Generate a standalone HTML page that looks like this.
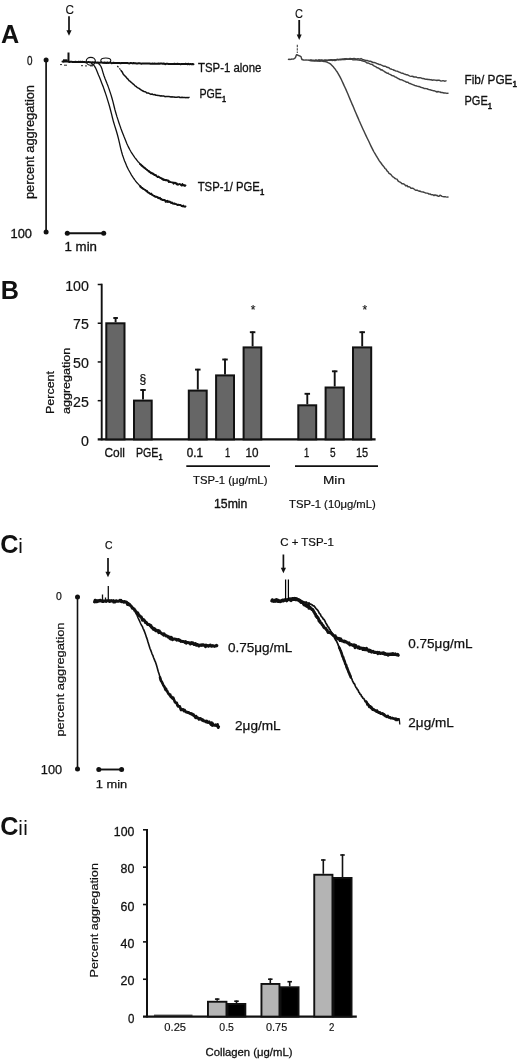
<!DOCTYPE html>
<html lang="en">
<head>
<meta charset="utf-8">
<title>Figure</title>
<style>
html,body{margin:0;padding:0;background:#fff;}
body{width:520px;height:1062px;overflow:hidden;}
svg{display:block;}
svg text{font-family:"Liberation Sans", sans-serif;fill:#111;}
</style>
</head>
<body>
<svg width="520" height="1062" viewBox="0 0 520 1062">
<rect width="520" height="1062" fill="#fff"/>
<text x="0.9" y="42.7" font-size="25.2" font-weight="bold">A</text>
<text x="65.5" y="14" font-size="12" textLength="8.5" lengthAdjust="spacingAndGlyphs" stroke="#111" stroke-width="0.12">C</text>
<line x1="69" y1="16.2" x2="69" y2="31.299999999999997" stroke="#111" stroke-width="1.7" stroke-linecap="butt"/>
<path d="M66.4,30.299999999999997 L71.6,30.299999999999997 L69,35.8 Z" fill="#111"/>
<text x="27" y="64.5" font-size="12.5" textLength="5.5" lengthAdjust="spacingAndGlyphs" stroke="#111" stroke-width="0.3">0</text>
<line x1="46.1" y1="60" x2="46.1" y2="232" stroke="#111" stroke-width="1.7" stroke-linecap="butt"/>
<circle cx="46.1" cy="60" r="2.5" fill="#111"/>
<circle cx="46.1" cy="232" r="2.5" fill="#111"/>
<text x="10.5" y="237.5" font-size="12.5" textLength="21.5" lengthAdjust="spacingAndGlyphs" stroke="#111" stroke-width="0.3">100</text>
<line x1="67.3" y1="233.2" x2="103.7" y2="233.2" stroke="#111" stroke-width="1.9" stroke-linecap="butt"/>
<circle cx="67.3" cy="233.2" r="2.5" fill="#111"/>
<circle cx="103.7" cy="233.2" r="2.5" fill="#111"/>
<text x="64.5" y="251" font-size="12.5" textLength="32.5" lengthAdjust="spacingAndGlyphs" stroke="#111" stroke-width="0.3">1 min</text>
<text x="34.4" y="199" font-size="12.5" textLength="114" lengthAdjust="spacingAndGlyphs" transform="rotate(-90 34.4 199)" stroke="#111" stroke-width="0.3">percent aggregation</text>
<path d="M62.5,61.6 L63.5,61.7 L64.5,61.6 L65.5,61.5 L66.5,61.6 L67.5,61.6 L68.5,61.7 L69.5,62.0 L70.5,61.7 L71.5,61.7 L72.5,61.9 L73.5,61.9 L74.5,61.9 L75.5,61.8 L76.5,61.9 L77.5,62.1 L78.5,61.8 L79.5,62.0 L80.5,61.8 L81.5,61.9 L82.5,61.8 L83.5,62.1 L84.5,62.0 L85.5,62.2 L86.5,62.3 L87.5,62.2 L88.5,61.9 L89.5,62.2 L90.5,62.3 L91.5,62.4 L92.5,62.2 L93.5,62.4 L94.5,62.3 L95.5,62.4 L96.5,62.7 L97.5,62.4 L98.5,62.6 L99.5,62.7 L100.5,62.5 L101.5,62.6 L102.5,62.7 L103.5,62.7 L104.5,62.5 L105.5,62.7 L106.5,63.0 L107.5,62.5 L108.5,62.9 L109.5,62.8 L110.5,62.7 L111.5,63.2 L112.5,63.0 L113.5,62.7 L114.5,62.9 L115.5,63.0 L116.5,62.9 L117.5,63.1 L118.5,63.0 L119.5,63.1 L120.5,63.3 L121.5,63.0 L122.5,63.1 L123.5,63.0 L124.5,63.1 L125.5,63.0 L126.5,63.1 L127.5,63.1 L128.5,63.3 L129.5,63.4 L130.5,63.0 L131.5,63.1 L132.5,63.4 L133.5,63.0 L134.5,63.2 L135.5,63.3 L136.5,63.5 L137.5,63.5 L138.5,63.3 L139.5,63.3 L140.5,63.4 L141.5,63.7 L142.5,63.4 L143.5,63.4 L144.5,63.5 L145.5,63.5 L146.5,63.5 L147.5,63.4 L148.5,63.5 L149.5,63.5 L150.5,63.8 L151.5,63.7 L152.5,63.6 L153.5,63.7 L154.5,63.6 L155.5,63.8 L156.5,63.7 L157.5,63.8 L158.5,63.5 L159.5,63.8 L160.5,63.5 L161.5,63.4 L162.5,63.7 L163.5,63.6 L164.5,63.8 L165.5,64.2 L166.5,63.7 L167.5,63.8 L168.5,63.9 L169.5,63.9 L170.5,63.9 L171.5,63.9 L172.5,64.0 L173.5,64.0 L174.5,63.8 L175.5,64.0 L176.5,64.0 L177.5,63.8 L178.5,64.0 L179.5,63.9 L180.5,64.2 L181.5,64.1 L182.5,64.1 L183.5,64.0 L184.5,64.1 L185.5,63.8 L186.5,63.9 L187.5,64.2 L188.5,63.8 L189.5,64.3 L190.5,63.9 L191.5,64.3 L192.5,64.1 L193.5,64.3" fill="none" stroke="#111" stroke-width="2.0" stroke-linejoin="round" stroke-linecap="round"/>
<path d="M68.5,52.5 V61.8" fill="none" stroke="#111" stroke-width="2.0"/><path d="M63,60.6 h4.5" fill="none" stroke="#111" stroke-width="2.6"/>
<path d="M60,64.6 h2 m2,0.6 h3 m14,0.5 h2 m2,0.2 h2 m3,0 h3" fill="none" stroke="#111" stroke-width="0.9"/>
<ellipse cx="90.8" cy="61.3" rx="4.6" ry="3.9" fill="none" stroke="#111" stroke-width="1.1"/>
<ellipse cx="105.8" cy="60.6" rx="5" ry="2.6" fill="none" stroke="#111" stroke-width="1.1"/>
<path d="M117.3,66 l1.2,1.4 m0.8,0.9 l1.2,1.4" stroke="#111" stroke-width="1.2" fill="none"/>
<path d="M121.0,70.5 L122.0,71.7 L123.0,73.7 L124.0,75.0 L125.0,76.0 L126.0,77.1 L127.0,78.3 L128.0,79.1 L129.0,80.6 L130.0,81.2 L131.0,82.2 L132.0,83.0 L133.0,83.9 L134.0,84.6 L135.0,85.9 L136.0,86.4 L137.0,87.3 L138.0,87.9 L139.0,88.4 L140.0,89.1 L141.0,89.8 L142.0,90.5 L143.0,91.0 L144.0,91.5 L145.0,91.7 L146.0,92.2 L147.0,93.1 L148.0,93.0 L149.0,93.3 L150.0,93.8 L151.0,94.4 L152.0,94.0 L153.0,94.5 L154.0,94.7 L155.0,94.6 L156.0,95.3 L157.0,95.3 L158.0,95.5 L159.0,95.5 L160.0,95.9 L161.0,95.8 L162.0,96.0 L163.0,96.0 L164.0,96.1 L165.0,96.7 L166.0,96.4 L167.0,96.6 L168.0,96.6 L169.0,96.6 L170.0,96.7 L171.0,97.0 L172.0,96.8 L173.0,96.9 L174.0,97.0 L175.0,97.3 L176.0,97.3 L177.0,97.2 L178.0,97.1 L179.0,97.0 L180.0,97.5 L181.0,97.5 L182.0,97.3 L183.0,97.5 L184.0,97.6 L185.0,97.6 L186.0,97.7 L187.0,97.4 L188.0,97.8 L189.0,97.3" fill="none" stroke="#111" stroke-width="1.5" stroke-linejoin="round" stroke-linecap="round"/>
<path d="M91.5,63.6 L92.5,64.0 L93.5,64.9 L94.5,66.1 L95.5,67.8 L96.5,70.0 L97.5,72.4 L98.5,74.9 L99.5,77.2 L100.5,79.8 L101.5,82.4 L102.5,84.9 L103.5,87.6 L104.5,90.5 L105.5,93.4 L106.5,96.4 L107.5,99.6 L108.5,102.9 L109.5,106.3 L110.5,110.0 L111.5,113.9 L112.5,118.0 L113.5,121.8 L114.5,125.1 L115.5,128.3 L116.5,131.5 L117.5,135.0 L118.5,138.9 L119.5,143.2 L120.5,147.6 L121.5,151.5 L122.5,155.0 L123.5,157.9 L124.5,160.7 L125.5,163.1 L126.5,165.6 L127.5,167.7 L128.5,169.7 L129.5,171.5 L130.5,173.3 L131.5,175.1 L132.5,176.6 L133.5,178.1 L134.5,179.5 L135.5,181.0 L136.5,182.2 L137.5,183.2 L138.5,184.4 L139.5,185.3 L140.5,186.0 L141.5,187.3 L142.5,188.5 L143.5,189.1 L144.5,189.5 L145.5,190.3 L146.5,191.7 L147.5,192.0 L148.5,192.7 L149.5,193.2 L150.5,193.9 L151.5,194.8 L152.5,195.2 L153.5,195.6 L154.5,195.6 L155.5,196.7 L156.5,196.7 L157.5,197.9 L158.5,197.4 L159.5,198.3 L160.5,198.8 L161.5,198.6 L162.5,200.2 L163.5,200.5 L164.5,200.1 L165.5,201.0 L166.5,201.2 L167.5,200.4 L168.5,201.9 L169.5,202.1 L170.5,202.5 L171.5,202.4 L172.5,203.0 L173.5,203.4 L174.5,204.2 L175.5,204.2 L176.5,204.4 L177.5,205.3 L178.5,204.8 L179.5,205.1 L180.5,204.8 L181.5,206.4 L182.5,206.4 L183.5,206.7 L184.5,206.8 L185.5,206.8" fill="none" stroke="#111" stroke-width="1.3" stroke-linejoin="round" stroke-linecap="round"/>
<path d="M98.0,63.5 L99.0,63.9 L100.0,65.0 L101.0,66.5 L102.0,69.1 L103.0,72.6 L104.0,75.7 L105.0,78.4 L106.0,80.9 L107.0,83.6 L108.0,86.1 L109.0,88.9 L110.0,91.9 L111.0,94.9 L112.0,98.3 L113.0,101.9 L114.0,106.0 L115.0,110.0 L116.0,113.5 L117.0,116.9 L118.0,119.9 L119.0,123.0 L120.0,125.9 L121.0,128.8 L122.0,131.4 L123.0,134.0 L124.0,136.6 L125.0,139.0 L126.0,141.5 L127.0,143.9 L128.0,146.1 L129.0,148.1 L130.0,150.0 L131.0,151.8 L132.0,153.3 L133.0,154.9 L134.0,156.3 L135.0,157.8 L136.0,159.0 L137.0,160.3 L138.0,161.7 L139.0,162.6 L140.0,163.9 L141.0,165.0 L142.0,165.8 L143.0,166.8 L144.0,168.0 L145.0,168.3 L146.0,169.0 L147.0,169.5 L148.0,170.7 L149.0,172.0 L150.0,172.5 L151.0,172.4 L152.0,173.1 L153.0,173.9 L154.0,174.8 L155.0,175.2 L156.0,175.9 L157.0,176.5 L158.0,176.8 L159.0,177.4 L160.0,178.0 L161.0,178.3 L162.0,179.0 L163.0,180.0 L164.0,179.9 L165.0,180.0 L166.0,179.7 L167.0,180.9 L168.0,180.3 L169.0,180.9 L170.0,182.1 L171.0,182.4 L172.0,182.4 L173.0,182.1 L174.0,182.9 L175.0,183.1 L176.0,183.9 L177.0,184.8 L178.0,184.3 L179.0,184.1 L180.0,184.2 L181.0,184.9 L182.0,185.1 L183.0,184.9 L184.0,185.5 L185.0,185.2" fill="none" stroke="#111" stroke-width="1.3" stroke-linejoin="round" stroke-linecap="round"/>
<path d="M140.0,186.5 L140.8,187.2 L141.6,187.8 L142.4,187.8 L143.2,188.9 L144.0,189.2 L144.8,189.7 L145.6,190.4 L146.4,190.5 L147.2,191.0 L148.0,192.6 L148.8,192.7 L149.6,193.4 L150.4,194.2 L151.2,193.5 L152.0,194.4 L152.8,195.2 L153.6,195.8 L154.4,195.8 L155.2,196.9 L156.0,196.9 L156.8,196.6 L157.6,197.1 L158.4,198.2 L159.2,198.4 L160.0,197.7 L160.8,199.5 L161.6,199.5 L162.4,200.1 L163.2,199.7 L164.0,200.0 L164.8,199.9 L165.6,201.9 L166.4,200.9 L167.2,202.0 L168.0,201.3 L168.8,201.9 L169.6,201.4 L170.4,202.2 L171.2,203.1 L172.0,202.4 L172.8,203.7 L173.6,203.6 L174.4,203.3 L175.2,203.8 L176.0,204.0 L176.8,204.5 L177.6,204.5 L178.4,204.6 L179.2,205.0 L180.0,204.9 L180.8,205.0 L181.6,205.8 L182.4,206.4 L183.2,205.5 L184.0,206.4 L184.8,206.3 L185.6,206.4" fill="none" stroke="#111" stroke-width="1.7" stroke-linejoin="round" stroke-linecap="round"/>
<path d="M140.0,164.1 L140.8,164.3 L141.6,165.9 L142.4,165.6 L143.2,166.9 L144.0,167.3 L144.8,167.7 L145.6,169.0 L146.4,169.3 L147.2,170.3 L148.0,170.6 L148.8,170.8 L149.6,171.8 L150.4,172.4 L151.2,173.4 L152.0,173.0 L152.8,173.9 L153.6,173.6 L154.4,175.2 L155.2,174.9 L156.0,175.0 L156.8,176.2 L157.6,177.2 L158.4,176.4 L159.2,177.0 L160.0,177.5 L160.8,177.7 L161.6,178.8 L162.4,178.6 L163.2,179.0 L164.0,179.9 L164.8,179.6 L165.6,180.4 L166.4,180.1 L167.2,180.3 L168.0,180.3 L168.8,182.2 L169.6,181.5 L170.4,182.0 L171.2,182.2 L172.0,182.5 L172.8,182.7 L173.6,183.8 L174.4,182.7 L175.2,182.7 L176.0,183.2 L176.8,183.3 L177.6,184.4 L178.4,184.7 L179.2,184.1 L180.0,184.1 L180.8,184.7 L181.6,185.7 L182.4,183.9 L183.2,185.6 L184.0,185.0 L184.8,186.1 L185.6,185.3" fill="none" stroke="#111" stroke-width="1.7" stroke-linejoin="round" stroke-linecap="round"/>
<text x="198" y="72" font-size="12.3" textLength="63.3" lengthAdjust="spacingAndGlyphs" stroke="#111" stroke-width="0.3">TSP-1 alone</text>
<text x="199.5" y="98" font-size="12.3" textLength="26.5" lengthAdjust="spacingAndGlyphs" stroke="#111" stroke-width="0.3">PGE<tspan dy="3.6" font-size="8.4" font-weight="bold">1</tspan></text>
<text x="197.7" y="191.2" font-size="12.3" textLength="66.5" lengthAdjust="spacingAndGlyphs" stroke="#111" stroke-width="0.3">TSP-1/ PGE<tspan dy="3.6" font-size="8.4" font-weight="bold">1</tspan></text>
<text x="295" y="17.5" font-size="12" textLength="8" lengthAdjust="spacingAndGlyphs" stroke="#111" stroke-width="0.12">C</text>
<line x1="299.2" y1="20" x2="299.2" y2="35.5" stroke="#111" stroke-width="1.8" stroke-linecap="butt"/>
<path d="M296.7,34.5 L301.7,34.5 L299.2,40 Z" fill="#111"/>
<path d="M288.5,59.4 L289.0,59.2 L289.5,59.3 L290.0,59.5 L290.5,59.4 L291.0,59.3 L291.5,59.2 L292.0,59.0 L292.5,59.1 L293.0,59.1 L293.5,59.0 L294.0,58.8 L294.5,58.4 L295.0,58.1 L295.5,57.4 L296.0,56.0 L296.5,54.8 L297.0,54.7 L297.5,55.0 L298.0,55.4 L298.5,55.5 L299.0,55.7 L299.5,56.0 L300.0,56.0 L300.5,56.4 L301.0,56.6 L301.5,58.4 L302.0,59.6 L302.5,59.7 L303.0,59.8 L303.5,60.0 L304.0,60.0 L304.5,60.1 L305.0,60.1 L305.5,60.0 L306.0,60.1 L306.5,60.0 L307.0,60.1 L307.5,60.1 L308.0,60.0 L308.5,60.2 L309.0,60.2 L309.5,60.2 L310.0,60.2 L310.5,60.2 L311.0,60.1 L311.5,60.2 L312.0,60.2 L312.5,60.3 L313.0,60.2 L313.5,60.4 L314.0,60.4 L314.5,60.4 L315.0,60.4 L315.5,60.6 L316.0,60.4 L316.5,60.7 L317.0,60.7 L317.5,60.7 L318.0,60.8 L318.5,60.8 L319.0,60.9 L319.5,61.0 L320.0,61.0" fill="none" stroke="#404040" stroke-width="1.45" stroke-linejoin="round" stroke-linecap="round"/>
<path d="M297.3,44.8 v2.4 m0,1 v2.4 m0,0.8 v1.5" stroke="#404040" stroke-width="1.1" fill="none"/>
<path d="M310.0,60.4 L311.0,60.1 L312.0,60.5 L313.0,60.6 L314.0,60.6 L315.0,60.4 L316.0,60.0 L317.0,60.5 L318.0,60.3 L319.0,59.8 L320.0,60.4 L321.0,60.0 L322.0,60.0 L323.0,60.1 L324.0,60.4 L325.0,60.1 L326.0,60.2 L327.0,60.4 L328.0,60.4 L329.0,60.0 L330.0,60.0 L331.0,59.7 L332.0,59.8 L333.0,59.9 L334.0,59.8 L335.0,59.7 L336.0,59.8 L337.0,59.3 L338.0,59.4 L339.0,59.4 L340.0,59.3 L341.0,59.3 L342.0,59.1 L343.0,58.9 L344.0,59.0 L345.0,58.7 L346.0,58.6 L347.0,59.0 L348.0,58.9 L349.0,58.9 L350.0,58.5 L351.0,58.8 L352.0,58.7 L353.0,58.6 L354.0,58.4 L355.0,58.7 L356.0,59.0 L357.0,58.9 L358.0,58.7 L359.0,58.9 L360.0,59.1 L361.0,58.5 L362.0,59.2 L363.0,59.6 L364.0,59.8 L365.0,60.3 L366.0,60.4 L367.0,60.5 L368.0,60.8 L369.0,61.2 L370.0,61.1 L371.0,61.5 L372.0,62.0 L373.0,62.5 L374.0,62.4 L375.0,62.7 L376.0,63.1 L377.0,63.7 L378.0,63.8 L379.0,64.5 L380.0,64.4 L381.0,64.9 L382.0,65.3 L383.0,65.8 L384.0,66.3 L385.0,66.2 L386.0,66.7 L387.0,67.3 L388.0,67.5 L389.0,67.8 L390.0,68.7 L391.0,69.0 L392.0,69.4 L393.0,69.6 L394.0,70.3 L395.0,70.5 L396.0,71.1 L397.0,71.1 L398.0,71.5 L399.0,72.1 L400.0,72.3 L401.0,72.9 L402.0,73.2 L403.0,73.3 L404.0,73.9 L405.0,74.2 L406.0,74.7 L407.0,74.7 L408.0,75.1 L409.0,75.7 L410.0,76.1 L411.0,76.4 L412.0,76.2 L413.0,76.5 L414.0,77.0 L415.0,76.9 L416.0,77.0 L417.0,77.4 L418.0,77.7 L419.0,77.6 L420.0,77.7 L421.0,77.9 L422.0,78.5 L423.0,78.4 L424.0,78.7 L425.0,79.0 L426.0,79.2 L427.0,79.2 L428.0,79.5 L429.0,79.4 L430.0,79.7 L431.0,79.6 L432.0,80.2 L433.0,80.0 L434.0,80.0 L435.0,80.1 L436.0,80.2 L437.0,80.5 L438.0,80.1 L439.0,80.3 L440.0,80.5 L441.0,81.1 L442.0,80.9 L443.0,80.7 L444.0,80.9 L445.0,81.2 L446.0,80.8" fill="none" stroke="#404040" stroke-width="1.45" stroke-linejoin="round" stroke-linecap="round"/>
<path d="M310.0,60.5 L311.0,60.8 L312.0,60.7 L313.0,60.7 L314.0,60.5 L315.0,61.0 L316.0,60.9 L317.0,60.7 L318.0,60.7 L319.0,60.1 L320.0,60.7 L321.0,60.5 L322.0,60.6 L323.0,60.6 L324.0,60.4 L325.0,60.1 L326.0,60.5 L327.0,60.2 L328.0,60.3 L329.0,60.2 L330.0,60.3 L331.0,59.8 L332.0,60.5 L333.0,60.3 L334.0,60.4 L335.0,60.6 L336.0,60.2 L337.0,59.8 L338.0,59.9 L339.0,59.7 L340.0,59.8 L341.0,59.8 L342.0,59.3 L343.0,59.7 L344.0,59.3 L345.0,59.6 L346.0,59.4 L347.0,59.3 L348.0,59.3 L349.0,59.2 L350.0,59.2 L351.0,59.0 L352.0,59.3 L353.0,59.8 L354.0,59.9 L355.0,59.8 L356.0,59.8 L357.0,59.6 L358.0,60.1 L359.0,60.0 L360.0,60.2 L361.0,60.4 L362.0,60.8 L363.0,61.0 L364.0,61.4 L365.0,61.6 L366.0,62.1 L367.0,63.0 L368.0,62.9 L369.0,63.3 L370.0,63.9 L371.0,64.3 L372.0,64.4 L373.0,65.1 L374.0,65.8 L375.0,66.3 L376.0,66.8 L377.0,67.7 L378.0,67.8 L379.0,68.5 L380.0,69.0 L381.0,70.0 L382.0,69.8 L383.0,70.6 L384.0,71.2 L385.0,72.0 L386.0,72.5 L387.0,73.2 L388.0,73.1 L389.0,74.1 L390.0,74.4 L391.0,74.9 L392.0,75.6 L393.0,75.8 L394.0,76.1 L395.0,76.9 L396.0,77.2 L397.0,77.8 L398.0,78.5 L399.0,78.9 L400.0,79.6 L401.0,79.7 L402.0,79.9 L403.0,80.5 L404.0,80.9 L405.0,81.2 L406.0,82.0 L407.0,82.2 L408.0,82.3 L409.0,83.2 L410.0,83.5 L411.0,83.9 L412.0,84.3 L413.0,84.7 L414.0,85.0 L415.0,85.6 L416.0,85.8 L417.0,86.1 L418.0,86.4 L419.0,86.4 L420.0,87.0 L421.0,87.3 L422.0,87.7 L423.0,87.7 L424.0,88.5 L425.0,88.5 L426.0,88.6 L427.0,88.7 L428.0,89.3 L429.0,89.6 L430.0,89.7 L431.0,90.2 L432.0,90.3 L433.0,90.7 L434.0,90.7 L435.0,91.1 L436.0,91.5 L437.0,92.0 L438.0,91.5 L439.0,91.9 L440.0,92.0 L441.0,92.5 L442.0,92.4 L443.0,92.7 L444.0,93.0 L445.0,93.0 L446.0,93.1 L447.0,93.4 L448.0,93.2" fill="none" stroke="#404040" stroke-width="1.45" stroke-linejoin="round" stroke-linecap="round"/>
<path d="M318.0,60.9 L319.0,61.0 L320.0,61.1 L321.0,61.1 L322.0,61.1 L323.0,61.3 L324.0,61.5 L325.0,61.6 L326.0,61.8 L327.0,62.1 L328.0,62.7 L329.0,63.1 L330.0,63.7 L331.0,64.4 L332.0,65.4 L333.0,66.4 L334.0,67.7 L335.0,68.9 L336.0,70.4 L337.0,71.7 L338.0,73.3 L339.0,75.1 L340.0,76.9 L341.0,78.8 L342.0,81.0 L343.0,83.1 L344.0,85.4 L345.0,87.5 L346.0,89.6 L347.0,92.0 L348.0,94.3 L349.0,96.7 L350.0,99.1 L351.0,101.5 L352.0,103.9 L353.0,106.1 L354.0,108.6 L355.0,111.0 L356.0,113.3 L357.0,115.6 L358.0,117.9 L359.0,120.3 L360.0,122.5 L361.0,124.7 L362.0,127.0 L363.0,129.2 L364.0,131.3 L365.0,133.5 L366.0,135.6 L367.0,137.7 L368.0,139.8 L369.0,141.8 L370.0,144.0 L371.0,146.1 L372.0,148.1 L373.0,150.1 L374.0,152.0 L375.0,153.7 L376.0,155.4 L377.0,157.0 L378.0,158.7 L379.0,160.4 L380.0,161.8 L381.0,163.0 L382.0,164.5 L383.0,165.7 L384.0,166.9 L385.0,168.5 L386.0,169.1 L387.0,170.9 L388.0,171.7 L389.0,173.3 L390.0,173.9 L391.0,174.6 L392.0,175.9 L393.0,176.9 L394.0,177.5 L395.0,178.5 L396.0,178.9 L397.0,179.1 L398.0,180.9 L399.0,181.6 L400.0,182.1 L401.0,182.7 L402.0,183.7 L403.0,183.7 L404.0,184.2 L405.0,184.9 L406.0,185.9 L407.0,185.5 L408.0,186.9 L409.0,186.8 L410.0,187.1 L411.0,188.3 L412.0,188.3 L413.0,188.3 L414.0,189.0 L415.0,189.8 L416.0,190.3 L417.0,190.1 L418.0,190.7 L419.0,191.2 L420.0,191.0 L421.0,191.7 L422.0,191.9 L423.0,192.0 L424.0,192.3 L425.0,192.7 L426.0,193.0 L427.0,193.1 L428.0,193.4 L429.0,194.1 L430.0,194.0 L431.0,194.5 L432.0,194.8 L433.0,194.8 L434.0,195.6 L435.0,194.7 L436.0,195.5 L437.0,195.3 L438.0,196.2 L439.0,196.3 L440.0,195.2 L441.0,195.7 L442.0,196.4 L443.0,196.6 L444.0,196.8 L445.0,196.6 L446.0,196.9 L447.0,197.1 L448.0,197.0" fill="none" stroke="#404040" stroke-width="1.45" stroke-linejoin="round" stroke-linecap="round"/>
<text x="464.5" y="83.8" font-size="12.3" textLength="52.5" lengthAdjust="spacingAndGlyphs" stroke="#111" stroke-width="0.3">Fib/ PGE<tspan dy="3.6" font-size="8.4" font-weight="bold">1</tspan></text>
<text x="464.5" y="104.9" font-size="12.3" textLength="27.5" lengthAdjust="spacingAndGlyphs" stroke="#111" stroke-width="0.3">PGE<tspan dy="3.6" font-size="8.4" font-weight="bold">1</tspan></text>
<text x="0.7" y="298.6" font-size="25.2" font-weight="bold">B</text>
<line x1="101.7" y1="283.7" x2="101.7" y2="440.4" stroke="#111" stroke-width="1.9" stroke-linecap="butt"/>
<line x1="97.7" y1="439.4" x2="375.6" y2="439.4" stroke="#111" stroke-width="2.1" stroke-linecap="butt"/>
<line x1="97.7" y1="284.5" x2="101.7" y2="284.5" stroke="#111" stroke-width="1.5" stroke-linecap="butt"/>
<line x1="97.7" y1="323.225" x2="101.7" y2="323.225" stroke="#111" stroke-width="1.5" stroke-linecap="butt"/>
<line x1="97.7" y1="361.95" x2="101.7" y2="361.95" stroke="#111" stroke-width="1.5" stroke-linecap="butt"/>
<line x1="97.7" y1="400.67499999999995" x2="101.7" y2="400.67499999999995" stroke="#111" stroke-width="1.5" stroke-linecap="butt"/>
<text x="88.8" y="290.6" font-size="14.2" text-anchor="end" stroke="#111" stroke-width="0.2">100</text>
<text x="88.8" y="329.32500000000005" font-size="14.2" text-anchor="end" stroke="#111" stroke-width="0.2">75</text>
<text x="88.8" y="368.05" font-size="14.2" text-anchor="end" stroke="#111" stroke-width="0.2">50</text>
<text x="88.8" y="406.775" font-size="14.2" text-anchor="end" stroke="#111" stroke-width="0.2">25</text>
<text x="88.8" y="445.5" font-size="14.2" text-anchor="end" stroke="#111" stroke-width="0.2">0</text>
<rect x="106.3" y="323.3" width="18.200000000000003" height="116.09999999999997" fill="#666" stroke="#111" stroke-width="2.0"/>
<line x1="115.6" y1="322.3" x2="115.6" y2="317.3" stroke="#111" stroke-width="1.9" stroke-linecap="butt"/>
<line x1="113.3" y1="318.0" x2="117.89999999999999" y2="318.0" stroke="#111" stroke-width="1.9" stroke-linecap="butt"/>
<rect x="134.0" y="400.6" width="17.69999999999999" height="38.799999999999955" fill="#666" stroke="#111" stroke-width="2.0"/>
<line x1="143.0" y1="399.6" x2="143.0" y2="389.3" stroke="#111" stroke-width="1.9" stroke-linecap="butt"/>
<line x1="140.25" y1="390.0" x2="145.75" y2="390.0" stroke="#111" stroke-width="1.9" stroke-linecap="butt"/>
<rect x="188.8" y="390.6" width="17.899999999999977" height="48.799999999999955" fill="#666" stroke="#111" stroke-width="2.0"/>
<line x1="197.8" y1="389.6" x2="197.8" y2="368.9" stroke="#111" stroke-width="1.9" stroke-linecap="butt"/>
<line x1="195.05" y1="369.59999999999997" x2="200.55" y2="369.59999999999997" stroke="#111" stroke-width="1.9" stroke-linecap="butt"/>
<rect x="216.1" y="375.4" width="17.900000000000006" height="64.0" fill="#666" stroke="#111" stroke-width="2.0"/>
<line x1="225.0" y1="374.4" x2="225.0" y2="358.8" stroke="#111" stroke-width="1.9" stroke-linecap="butt"/>
<line x1="222.25" y1="359.5" x2="227.75" y2="359.5" stroke="#111" stroke-width="1.9" stroke-linecap="butt"/>
<rect x="243.6" y="347.4" width="17.700000000000017" height="92.0" fill="#666" stroke="#111" stroke-width="2.0"/>
<line x1="252.6" y1="346.4" x2="252.6" y2="331.5" stroke="#111" stroke-width="1.9" stroke-linecap="butt"/>
<line x1="249.85" y1="332.2" x2="255.35" y2="332.2" stroke="#111" stroke-width="1.9" stroke-linecap="butt"/>
<rect x="298.3" y="405.3" width="17.899999999999977" height="34.099999999999966" fill="#666" stroke="#111" stroke-width="2.0"/>
<line x1="307.3" y1="404.3" x2="307.3" y2="393.1" stroke="#111" stroke-width="1.9" stroke-linecap="butt"/>
<line x1="304.55" y1="393.8" x2="310.05" y2="393.8" stroke="#111" stroke-width="1.9" stroke-linecap="butt"/>
<rect x="325.6" y="387.5" width="18.19999999999999" height="51.89999999999998" fill="#666" stroke="#111" stroke-width="2.0"/>
<line x1="334.7" y1="386.5" x2="334.7" y2="370.6" stroke="#111" stroke-width="1.9" stroke-linecap="butt"/>
<line x1="331.95" y1="371.3" x2="337.45" y2="371.3" stroke="#111" stroke-width="1.9" stroke-linecap="butt"/>
<rect x="353.0" y="347.4" width="18.19999999999999" height="92.0" fill="#666" stroke="#111" stroke-width="2.0"/>
<line x1="362.2" y1="346.4" x2="362.2" y2="331.5" stroke="#111" stroke-width="1.9" stroke-linecap="butt"/>
<line x1="359.45" y1="332.2" x2="364.95" y2="332.2" stroke="#111" stroke-width="1.9" stroke-linecap="butt"/>
<text x="142.8" y="383" font-size="12" text-anchor="middle" stroke="#111" stroke-width="0.25">§</text>
<text x="253" y="313.5" font-size="12" text-anchor="middle" stroke="#111" stroke-width="0.15">*</text>
<text x="364.8" y="313.5" font-size="12" text-anchor="middle" stroke="#111" stroke-width="0.15">*</text>
<text x="104.5" y="456.8" font-size="12.3" textLength="20.5" lengthAdjust="spacingAndGlyphs" stroke="#111" stroke-width="0.3">Coll</text>
<text x="136" y="456.8" font-size="12.3" textLength="26.5" lengthAdjust="spacingAndGlyphs" stroke="#111" stroke-width="0.3">PGE<tspan dy="3.6" font-size="8.4" font-weight="bold">1</tspan></text>
<text x="186.8" y="457" font-size="12" textLength="16.2" lengthAdjust="spacingAndGlyphs" stroke="#111" stroke-width="0.35" font-family='"Liberation Serif", serif'>0.1</text>
<text x="225" y="457.3" font-size="12" textLength="5.2" lengthAdjust="spacingAndGlyphs" stroke="#111" stroke-width="0.3">1</text>
<text x="245.5" y="457.3" font-size="12" textLength="13" lengthAdjust="spacingAndGlyphs" stroke="#111" stroke-width="0.3">10</text>
<text x="304" y="457.3" font-size="12" textLength="5.2" lengthAdjust="spacingAndGlyphs" stroke="#111" stroke-width="0.3">1</text>
<text x="330" y="457.3" font-size="12" textLength="5.6" lengthAdjust="spacingAndGlyphs" stroke="#111" stroke-width="0.3">5</text>
<text x="356" y="457.3" font-size="12" textLength="12.2" lengthAdjust="spacingAndGlyphs" stroke="#111" stroke-width="0.3">15</text>
<line x1="186.3" y1="466.2" x2="270" y2="466.2" stroke="#111" stroke-width="1.8" stroke-linecap="butt"/>
<line x1="295" y1="466.2" x2="378" y2="466.2" stroke="#111" stroke-width="1.8" stroke-linecap="butt"/>
<text x="193" y="483.8" font-size="11.5" textLength="74.4" lengthAdjust="spacingAndGlyphs" stroke="#111" stroke-width="0.2">TSP-1 (μg/mL)</text>
<text x="323" y="483.5" font-size="11.3" textLength="22" lengthAdjust="spacingAndGlyphs" stroke="#111" stroke-width="0.2">Min</text>
<text x="214" y="508.4" font-size="12.5" textLength="33.4" lengthAdjust="spacingAndGlyphs" stroke="#111" stroke-width="0.35">15min</text>
<text x="289" y="508" font-size="11.5" textLength="86.8" lengthAdjust="spacingAndGlyphs" stroke="#111" stroke-width="0.2">TSP-1 (10μg/mL)</text>
<text x="53.6" y="414" font-size="11.8" textLength="43" lengthAdjust="spacingAndGlyphs" transform="rotate(-90 53.6 414)" stroke="#111" stroke-width="0.25">Percent</text>
<text x="69.8" y="414" font-size="11.8" textLength="66.2" lengthAdjust="spacingAndGlyphs" transform="rotate(-90 69.8 414)" stroke="#111" stroke-width="0.25">aggregation</text>
<text x="0.3" y="552.9" font-size="25.2" font-weight="bold">C<tspan font-weight="normal" font-size="20.5" dx="-0.2" dy="0.2">i</tspan></text>
<text x="105" y="548.8" font-size="11.5" textLength="7.5" lengthAdjust="spacingAndGlyphs" stroke="#111" stroke-width="0.25">C</text>
<line x1="108" y1="558" x2="108" y2="572.8" stroke="#111" stroke-width="1.7" stroke-linecap="butt"/>
<path d="M105.4,571.8 L110.6,571.8 L108,577.3 Z" fill="#111"/>
<text x="56" y="600.2" font-size="11.8" textLength="5.8" lengthAdjust="spacingAndGlyphs" stroke="#111" stroke-width="0.25">0</text>
<line x1="77.5" y1="597" x2="77.5" y2="769" stroke="#111" stroke-width="1.6" stroke-linecap="butt"/>
<circle cx="77.5" cy="597" r="2.5" fill="#111"/>
<circle cx="77.5" cy="769" r="2.5" fill="#111"/>
<text x="40.8" y="773.5" font-size="12" textLength="21.3" lengthAdjust="spacingAndGlyphs" stroke="#111" stroke-width="0.25">100</text>
<line x1="98.8" y1="769.5" x2="121.6" y2="769.5" stroke="#111" stroke-width="1.9" stroke-linecap="butt"/>
<circle cx="98.8" cy="769.5" r="2.5" fill="#111"/>
<circle cx="121.6" cy="769.5" r="2.5" fill="#111"/>
<text x="95.8" y="788" font-size="11.8" textLength="31.5" lengthAdjust="spacingAndGlyphs" stroke="#111" stroke-width="0.25">1 min</text>
<text x="63.8" y="736.5" font-size="11.8" textLength="114" lengthAdjust="spacingAndGlyphs" transform="rotate(-90 63.8 736.5)" stroke="#111" stroke-width="0.22">percent aggregation</text>
<path d="M94.5,601.9 L95.1,600.2 L95.7,601.6 L96.3,600.7 L96.9,601.7 L97.5,601.0 L98.1,600.6 L98.7,601.2 L99.3,600.6 L99.9,600.5 L100.5,600.2 L101.1,601.0 L101.7,601.2 L102.3,601.5 L102.9,600.9 L103.5,601.5 L104.1,600.9 L104.7,600.9 L105.3,601.2 L105.9,601.4 L106.5,600.7 L107.1,600.8 L107.7,600.8 L108.3,600.9 L108.9,600.5 L109.5,601.4 L110.1,600.7 L110.7,601.1 L111.3,600.5 L111.9,601.1 L112.5,601.1 L113.1,600.7 L113.7,602.0 L114.3,601.2 L114.9,601.9 L115.5,601.5 L116.1,600.7 L116.7,600.9 L117.3,601.3 L117.9,601.2 L118.5,601.2 L119.1,601.1 L119.7,600.4 L120.3,601.2 L120.9,600.3 L121.5,601.7 L122.1,601.3 L122.7,601.5 L123.3,601.9 L123.9,602.3 L124.5,601.6 L125.1,601.7 L125.7,602.3 L126.3,602.0 L126.9,602.8 L127.5,604.4 L128.1,603.4 L128.7,604.6 L129.3,604.0 L129.9,605.3 L130.5,605.4 L131.1,606.1 L131.7,606.9 L132.3,608.2 L132.9,608.1 L133.5,608.8 L134.1,608.9 L134.7,610.4 L135.3,610.7 L135.9,611.9 L136.5,612.2 L137.1,613.8 L137.7,612.7 L138.3,614.2 L138.9,615.5 L139.5,615.6 L140.1,616.1 L140.7,617.0 L141.3,617.1 L141.9,618.5 L142.5,620.3 L143.1,620.2 L143.7,619.7 L144.3,620.4 L144.9,621.2 L145.5,622.5 L146.1,622.2 L146.7,622.8 L147.3,624.1 L147.9,624.6 L148.5,624.5 L149.1,624.6 L149.7,624.9 L150.3,625.8 L150.9,625.5 L151.5,627.4 L152.1,627.2 L152.7,628.2 L153.3,629.3 L153.9,629.4 L154.5,628.6 L155.1,630.0 L155.7,630.6 L156.3,630.0 L156.9,630.3 L157.5,631.1 L158.1,630.7 L158.7,632.6 L159.3,631.0 L159.9,632.0 L160.5,632.7 L161.1,633.1 L161.7,633.6 L162.3,634.0 L162.9,634.1 L163.5,635.1 L164.1,633.8 L164.7,635.1 L165.3,635.1 L165.9,635.8 L166.5,636.1 L167.1,635.9 L167.7,636.3 L168.3,637.2 L168.9,637.3 L169.5,637.0 L170.1,638.6 L170.7,639.0 L171.3,637.3 L171.9,638.4 L172.5,639.7 L173.1,639.0 L173.7,638.9 L174.3,638.9 L174.9,638.9 L175.5,639.3 L176.1,639.3 L176.7,640.1 L177.3,639.7 L177.9,639.9 L178.5,639.6 L179.1,640.4 L179.7,640.1 L180.3,640.6 L180.9,641.4 L181.5,641.2 L182.1,641.5 L182.7,641.6 L183.3,641.6 L183.9,641.7 L184.5,641.8 L185.1,642.5 L185.7,641.7 L186.3,643.1 L186.9,642.6 L187.5,642.4 L188.1,642.6 L188.7,642.7 L189.3,643.2 L189.9,642.9 L190.5,644.0 L191.1,643.1 L191.7,642.5 L192.3,643.4 L192.9,642.8 L193.5,643.9 L194.1,644.6 L194.7,644.5 L195.3,643.6 L195.9,644.0 L196.5,645.3 L197.1,644.7 L197.7,644.6 L198.3,645.2 L198.9,646.0 L199.5,645.5 L200.1,645.0 L200.7,645.2 L201.3,645.4 L201.9,644.8 L202.5,644.7 L203.1,645.3 L203.7,644.8 L204.3,645.3 L204.9,645.5 L205.5,646.7 L206.1,645.1 L206.7,645.5 L207.3,645.6 L207.9,645.9 L208.5,646.3 L209.1,645.6 L209.7,645.5 L210.3,645.1 L210.9,645.5 L211.5,646.3 L212.1,646.1 L212.7,645.6 L213.3,645.9 L213.9,646.2 L214.5,646.4 L215.1,645.9 L215.7,646.1 L216.3,645.4 L216.9,645.7" fill="none" stroke="#111" stroke-width="3.0" stroke-linejoin="round" stroke-linecap="round"/>
<path d="M136.0,613.5 L136.7,614.0 L137.4,616.2 L138.1,618.0 L138.8,619.4 L139.5,620.8 L140.2,622.5 L140.9,624.0 L141.6,625.4 L142.3,626.3 L143.0,628.3 L143.7,629.6 L144.4,631.4 L145.1,633.3 L145.8,635.3 L146.5,637.4 L147.2,639.2 L147.9,641.8 L148.6,644.1 L149.3,646.3 L150.0,648.5 L150.7,650.1 L151.4,652.0 L152.1,654.1 L152.8,655.3 L153.5,657.5 L154.2,659.1 L154.9,660.9 L155.6,662.4 L156.3,664.6 L157.0,666.9 L157.7,669.5 L158.4,672.0 L159.1,674.1 L159.8,676.4 L160.5,678.4 L161.2,680.6 L161.9,682.0 L162.6,683.8 L163.3,685.5 L164.0,686.3 L164.7,687.1 L165.4,688.5 L166.1,689.4 L166.8,690.6 L167.5,692.4 L168.2,693.1 L168.9,693.5 L169.6,695.0 L170.3,696.1 L171.0,696.4 L171.7,697.1 L172.4,698.0 L173.1,699.0 L173.8,700.0 L174.5,701.0 L175.2,701.9 L175.9,702.8 L176.6,703.9 L177.3,704.6 L178.0,704.9 L178.7,706.1 L179.4,707.0 L180.1,707.5 L180.8,708.4 L181.5,708.6 L182.2,708.9 L182.9,710.1 L183.6,710.4 L184.3,710.7 L185.0,711.3 L185.7,711.7 L186.4,711.9 L187.1,711.4 L187.8,712.4 L188.5,712.8 L189.2,713.0 L189.9,713.7 L190.6,714.4 L191.3,714.2 L192.0,714.4 L192.7,715.7 L193.4,715.4 L194.1,715.5 L194.8,716.3 L195.5,716.8 L196.2,716.8 L196.9,717.6 L197.6,717.6 L198.3,717.8 L199.0,718.5 L199.7,719.0 L200.4,719.0 L201.1,719.6 L201.8,719.8 L202.5,721.0 L203.2,720.3 L203.9,721.2 L204.6,721.1 L205.3,721.3 L206.0,721.9 L206.7,722.2 L207.4,722.6 L208.1,722.6 L208.8,722.6 L209.5,722.9 L210.2,723.5 L210.9,723.8 L211.6,724.3 L212.3,724.2 L213.0,724.7 L213.7,725.1 L214.4,724.9 L215.1,724.6 L215.8,725.0 L216.5,725.1 L217.2,726.2 L217.9,725.7 L218.6,726.6" fill="none" stroke="#111" stroke-width="1.6" stroke-linejoin="round" stroke-linecap="round"/>
<path d="M160.0,677.4 L160.6,679.9 L161.2,681.1 L161.8,681.8 L162.4,683.1 L163.0,684.5 L163.6,685.7 L164.2,686.4 L164.8,687.7 L165.4,689.7 L166.0,688.7 L166.6,690.8 L167.2,691.0 L167.8,692.5 L168.4,693.8 L169.0,694.0 L169.6,695.3 L170.2,694.6 L170.8,696.9 L171.4,696.6 L172.0,698.0 L172.6,698.5 L173.2,697.5 L173.8,699.3 L174.4,700.6 L175.0,702.2 L175.6,702.2 L176.2,703.1 L176.8,702.9 L177.4,705.4 L178.0,706.4 L178.6,706.1 L179.2,706.6 L179.8,706.4 L180.4,708.4 L181.0,709.9 L181.6,709.2 L182.2,710.0 L182.8,710.0 L183.4,709.4 L184.0,711.2 L184.6,710.0 L185.2,711.0 L185.8,711.6 L186.4,712.3 L187.0,712.4 L187.6,712.7 L188.2,712.3 L188.8,712.3 L189.4,713.4 L190.0,713.3 L190.6,713.2 L191.2,713.5 L191.8,714.3 L192.4,713.8 L193.0,714.5 L193.6,714.6 L194.2,716.0 L194.8,716.5 L195.4,717.8 L196.0,716.0 L196.6,716.8 L197.2,718.1 L197.8,717.7 L198.4,717.9 L199.0,719.5 L199.6,718.5 L200.2,718.4 L200.8,718.5 L201.4,719.8 L202.0,720.1 L202.6,719.4 L203.2,719.9 L203.8,721.1 L204.4,721.3 L205.0,720.9 L205.6,721.9 L206.2,722.1 L206.8,720.9 L207.4,722.1 L208.0,722.7 L208.6,722.4 L209.2,721.7 L209.8,723.0 L210.4,723.9 L211.0,724.6 L211.6,722.5 L212.2,725.6 L212.8,723.6 L213.4,725.1 L214.0,725.5 L214.6,725.5 L215.2,725.2 L215.8,724.6 L216.4,725.9 L217.0,725.3 L217.6,724.4 L218.2,727.8 L218.8,726.7" fill="none" stroke="#111" stroke-width="2.6" stroke-linejoin="round" stroke-linecap="round"/>
<path d="M102.5,600.5 V594.5 M108.3,600.5 V586 M105.5,600.5 v-3" stroke="#111" stroke-width="1.3" fill="none"/>
<text x="228" y="652.1" font-size="13.3" textLength="64.2" lengthAdjust="spacingAndGlyphs" stroke="#111" stroke-width="0.25">0.75μg/mL</text>
<text x="235" y="730.4" font-size="13.3" textLength="45.7" lengthAdjust="spacingAndGlyphs" stroke="#111" stroke-width="0.25">2μg/mL</text>
<text x="280.2" y="545.8" font-size="11.5" textLength="53.6" lengthAdjust="spacingAndGlyphs" stroke="#111" stroke-width="0.22">C + TSP-1</text>
<line x1="283.4" y1="554.5" x2="283.4" y2="568.7" stroke="#111" stroke-width="1.7" stroke-linecap="butt"/>
<path d="M280.79999999999995,567.7 L286.0,567.7 L283.4,573.2 Z" fill="#111"/>
<path d="M271.7,600.9 L272.3,599.7 L272.9,601.0 L273.5,601.2 L274.1,601.2 L274.7,600.5 L275.3,600.0 L275.9,600.6 L276.5,599.6 L277.1,599.9 L277.7,600.8 L278.3,600.3 L278.9,600.7 L279.5,600.7 L280.1,601.7 L280.7,601.3 L281.3,600.6 L281.9,601.1 L282.5,600.1 L283.1,600.2 L283.7,600.8 L284.3,599.7 L284.9,600.1 L285.5,599.5 L286.1,600.1 L286.7,600.8 L287.3,599.5 L287.9,599.9 L288.5,599.3 L289.1,599.1 L289.7,598.9 L290.3,600.2 L290.9,600.6 L291.5,599.6 L292.1,598.9 L292.7,599.6 L293.3,599.0 L293.9,599.6 L294.5,599.4 L295.1,599.5 L295.7,599.8 L296.3,599.4 L296.9,599.7 L297.5,599.3 L298.1,600.3 L298.7,600.1 L299.3,601.1 L299.9,601.0 L300.5,601.9 L301.1,602.5 L301.7,601.9 L302.3,602.6 L302.9,602.9 L303.5,604.1 L304.1,604.9 L304.7,604.8 L305.3,604.5 L305.9,605.8 L306.5,604.6 L307.1,606.5 L307.7,605.8 L308.3,605.1 L308.9,608.3 L309.5,608.2 L310.1,607.3 L310.7,608.4 L311.3,608.7 L311.9,609.4 L312.5,609.2 L313.1,610.2 L313.7,611.5 L314.3,612.2 L314.9,613.7 L315.5,614.2 L316.1,616.4 L316.7,616.0 L317.3,617.6 L317.9,617.6 L318.5,618.9 L319.1,621.1 L319.7,620.8 L320.3,622.4 L320.9,623.0 L321.5,623.3 L322.1,624.5 L322.7,625.2 L323.3,626.0 L323.9,627.3 L324.5,627.9 L325.1,627.9 L325.7,628.4 L326.3,629.6 L326.9,630.0 L327.5,631.1 L328.1,632.5 L328.7,632.1 L329.3,632.2 L329.9,632.7 L330.5,632.8 L331.1,633.3 L331.7,633.7 L332.3,634.4 L332.9,634.8 L333.5,635.8 L334.1,635.6 L334.7,636.1 L335.3,635.9 L335.9,637.7 L336.5,637.5 L337.1,638.4 L337.7,638.3 L338.3,639.0 L338.9,638.4 L339.5,639.2 L340.1,640.5 L340.7,638.9 L341.3,640.4 L341.9,641.0 L342.5,640.7 L343.1,641.2 L343.7,641.7 L344.3,641.0 L344.9,641.9 L345.5,641.5 L346.1,641.9 L346.7,642.2 L347.3,642.8 L347.9,643.2 L348.5,643.6 L349.1,642.9 L349.7,644.9 L350.3,644.7 L350.9,644.8 L351.5,644.5 L352.1,644.9 L352.7,645.4 L353.3,645.6 L353.9,644.8 L354.5,646.2 L355.1,647.6 L355.7,645.4 L356.3,647.0 L356.9,646.9 L357.5,646.9 L358.1,647.9 L358.7,646.8 L359.3,647.7 L359.9,648.5 L360.5,647.9 L361.1,647.9 L361.7,648.4 L362.3,648.3 L362.9,649.5 L363.5,648.4 L364.1,649.5 L364.7,648.6 L365.3,649.8 L365.9,649.6 L366.5,648.4 L367.1,649.9 L367.7,649.6 L368.3,650.1 L368.9,651.2 L369.5,650.1 L370.1,650.3 L370.7,651.7 L371.3,651.2 L371.9,652.1 L372.5,651.6 L373.1,651.2 L373.7,651.8 L374.3,652.6 L374.9,652.6 L375.5,652.2 L376.1,652.4 L376.7,652.5 L377.3,652.3 L377.9,653.7 L378.5,652.8 L379.1,652.4 L379.7,652.8 L380.3,653.5 L380.9,653.5 L381.5,653.2 L382.1,653.0 L382.7,653.5 L383.3,652.7 L383.9,652.9 L384.5,654.1 L385.1,653.5 L385.7,654.0 L386.3,654.5 L386.9,654.3 L387.5,654.0 L388.1,655.2 L388.7,654.5 L389.3,654.0 L389.9,654.6 L390.5,654.5 L391.1,653.9 L391.7,654.5 L392.3,654.4 L392.9,653.5 L393.5,654.5 L394.1,654.5 L394.7,654.5 L395.3,653.9 L395.9,654.6 L396.5,654.8 L397.1,654.9 L397.7,654.3 L398.3,655.3" fill="none" stroke="#111" stroke-width="3.0" stroke-linejoin="round" stroke-linecap="round"/>
<path d="M272.0,600.6 L272.7,601.1 L273.4,601.8 L274.1,601.2 L274.8,601.4 L275.5,602.0 L276.2,601.6 L276.9,601.6 L277.6,601.9 L278.3,602.2 L279.0,601.0 L279.7,601.5 L280.4,601.4 L281.1,601.3 L281.8,601.3 L282.5,601.1 L283.2,601.3 L283.9,600.6 L284.6,600.7 L285.3,600.5 L286.0,599.9 L286.7,599.9 L287.4,600.3 L288.1,599.6 L288.8,599.0 L289.5,598.9 L290.2,598.4 L290.9,598.5 L291.6,598.5 L292.3,597.8 L293.0,597.9 L293.7,598.3 L294.4,597.7 L295.1,598.1 L295.8,597.8 L296.5,598.1 L297.2,598.4 L297.9,599.6 L298.6,599.1 L299.3,599.3 L300.0,599.7 L300.7,600.1 L301.4,600.8 L302.1,601.0 L302.8,601.9 L303.5,601.6 L304.2,602.3 L304.9,602.1 L305.6,602.5 L306.3,602.0 L307.0,602.7 L307.7,603.0 L308.4,603.2 L309.1,602.8 L309.8,604.2 L310.5,604.1 L311.2,604.4 L311.9,604.8 L312.6,605.3 L313.3,605.9 L314.0,605.9 L314.7,606.7 L315.4,607.8 L316.1,608.6 L316.8,609.3 L317.5,610.1 L318.2,611.0 L318.9,612.3 L319.6,613.8 L320.3,614.0 L321.0,616.0 L321.7,616.8 L322.4,617.4 L323.1,618.9 L323.8,619.2 L324.5,620.2 L325.2,621.6 L325.9,623.1 L326.6,624.3 L327.3,625.5 L328.0,626.9 L328.7,627.3 L329.4,629.3 L330.1,629.8 L330.8,631.1 L331.5,632.3 L332.2,633.2 L332.9,634.3 L333.6,635.6 L334.3,637.3 L335.0,638.8 L335.7,640.1 L336.4,640.9 L337.1,642.4 L337.8,643.9 L338.5,645.9 L339.2,646.6 L339.9,649.4 L340.6,650.6 L341.3,652.3 L342.0,654.6 L342.7,656.8 L343.4,658.5 L344.1,660.7 L344.8,662.2 L345.5,664.4 L346.2,666.2 L346.9,667.6 L347.6,669.9 L348.3,671.2 L349.0,672.9 L349.7,674.2 L350.4,676.0 L351.1,677.9 L351.8,678.7 L352.5,680.8 L353.2,682.1 L353.9,683.5 L354.6,683.9 L355.3,686.0 L356.0,687.5 L356.7,688.2 L357.4,689.7 L358.1,690.0 L358.8,692.2 L359.5,692.8 L360.2,694.4 L360.9,694.5 L361.6,696.4 L362.3,697.0 L363.0,698.3 L363.7,698.6 L364.4,699.6 L365.1,701.5 L365.8,701.2 L366.5,702.1 L367.2,703.1 L367.9,703.6 L368.6,705.2 L369.3,706.2 L370.0,706.1 L370.7,706.5 L371.4,708.2 L372.1,708.8 L372.8,709.3 L373.5,710.0 L374.2,709.8 L374.9,710.4 L375.6,710.4 L376.3,710.8 L377.0,712.0 L377.7,711.7 L378.4,713.1 L379.1,712.6 L379.8,712.7 L380.5,713.5 L381.2,714.2 L381.9,714.1 L382.6,713.8 L383.3,714.7 L384.0,715.3 L384.7,715.0 L385.4,715.2 L386.1,716.2 L386.8,716.1 L387.5,716.0 L388.2,716.5 L388.9,716.6 L389.6,717.2 L390.3,717.4 L391.0,718.0 L391.7,718.0 L392.4,717.5 L393.1,718.4 L393.8,718.7 L394.5,718.8 L395.2,719.1 L395.9,718.8 L396.6,718.8 L397.3,719.6 L398.0,719.0 L398.7,718.8" fill="none" stroke="#111" stroke-width="1.7" stroke-linejoin="round" stroke-linecap="round"/>
<path d="M339.2,647.7 L339.7,648.4 L340.2,649.9 L340.7,650.8 L341.2,652.2 L341.7,653.6 L342.2,655.3 L342.7,656.9 L343.2,657.1 L343.7,659.6 L344.2,660.2 L344.7,661.5 L345.2,663.5 L345.7,664.5 L346.2,665.1 L346.7,667.7 L347.2,667.9 L347.7,669.6 L348.2,670.8 L348.7,672.5 L349.2,673.0 L349.7,674.8 L350.2,675.3 L350.7,677.2" fill="none" stroke="#111" stroke-width="2.6" stroke-linejoin="round" stroke-linecap="round"/>
<path d="M366.2,701.6 L366.8,702.6 L367.4,704.5 L368.0,704.4 L368.6,705.0 L369.2,706.8 L369.8,706.5 L370.4,706.4 L371.0,707.9 L371.6,707.4 L372.2,709.2 L372.8,709.7 L373.4,709.2 L374.0,709.6 L374.6,710.4 L375.2,710.7 L375.8,710.5 L376.4,711.7 L377.0,710.5 L377.6,711.7 L378.2,712.0 L378.8,712.3 L379.4,712.9 L380.0,712.3 L380.6,713.6 L381.2,713.5 L381.8,713.5 L382.4,713.4 L383.0,713.7 L383.6,714.9 L384.2,714.4 L384.8,715.3 L385.4,716.1 L386.0,716.3 L386.6,716.9 L387.2,716.1 L387.8,715.9 L388.4,717.3 L389.0,717.1 L389.6,717.7 L390.2,717.3 L390.8,718.2 L391.4,718.2 L392.0,718.3 L392.6,718.3 L393.2,718.5 L393.8,718.5 L394.4,718.7 L395.0,719.3 L395.6,718.6 L396.2,720.0 L396.8,719.1 L397.4,719.8 L398.0,719.4 L398.6,719.4" fill="none" stroke="#111" stroke-width="2.6" stroke-linejoin="round" stroke-linecap="round"/>
<path d="M285.6,599.5 V579.4 M288.4,599.5 V579.4" stroke="#000" stroke-width="1.25" fill="none"/>
<path d="M399.3,719.5 l0.5,5" stroke="#111" stroke-width="1.3" fill="none"/>
<text x="408.3" y="647.8" font-size="13.3" textLength="64.2" lengthAdjust="spacingAndGlyphs" stroke="#111" stroke-width="0.25">0.75μg/mL</text>
<text x="408.3" y="727.3" font-size="13.3" textLength="45.5" lengthAdjust="spacingAndGlyphs" stroke="#111" stroke-width="0.25">2μg/mL</text>
<text x="0.3" y="834.9" font-size="25.2" font-weight="bold">C<tspan font-weight="normal" font-size="20.5" dx="-0.2" dy="0.2" letter-spacing="0.45">ii</tspan></text>
<line x1="147" y1="829.0" x2="147" y2="1017.6" stroke="#111" stroke-width="2.0" stroke-linecap="butt"/>
<line x1="143" y1="1016.6" x2="356.8" y2="1016.6" stroke="#111" stroke-width="2.1" stroke-linecap="butt"/>
<line x1="143" y1="829.8" x2="147" y2="829.8" stroke="#111" stroke-width="1.6" stroke-linecap="butt"/>
<line x1="143" y1="867.16" x2="147" y2="867.16" stroke="#111" stroke-width="1.6" stroke-linecap="butt"/>
<line x1="143" y1="904.52" x2="147" y2="904.52" stroke="#111" stroke-width="1.6" stroke-linecap="butt"/>
<line x1="143" y1="941.88" x2="147" y2="941.88" stroke="#111" stroke-width="1.6" stroke-linecap="butt"/>
<line x1="143" y1="979.24" x2="147" y2="979.24" stroke="#111" stroke-width="1.6" stroke-linecap="butt"/>
<text x="134.3" y="836.0" font-size="12.8" textLength="20.5" lengthAdjust="spacingAndGlyphs" text-anchor="end" stroke="#111" stroke-width="0.3">100</text>
<text x="134.3" y="873.36" font-size="12.8" textLength="13.8" lengthAdjust="spacingAndGlyphs" text-anchor="end" stroke="#111" stroke-width="0.3">80</text>
<text x="134.3" y="910.72" font-size="12.8" textLength="13.8" lengthAdjust="spacingAndGlyphs" text-anchor="end" stroke="#111" stroke-width="0.3">60</text>
<text x="134.3" y="948.08" font-size="12.8" textLength="13.8" lengthAdjust="spacingAndGlyphs" text-anchor="end" stroke="#111" stroke-width="0.3">40</text>
<text x="134.3" y="985.44" font-size="12.8" textLength="13.8" lengthAdjust="spacingAndGlyphs" text-anchor="end" stroke="#111" stroke-width="0.3">20</text>
<text x="134.3" y="1022.8000000000001" font-size="12.8" textLength="6.4" lengthAdjust="spacingAndGlyphs" text-anchor="end" stroke="#111" stroke-width="0.3">0</text>
<line x1="154" y1="1015.2" x2="192.5" y2="1015.2" stroke="#111" stroke-width="1.0" stroke-linecap="butt"/>
<rect x="207.95" y="1001.75" width="18.500000000000007" height="14.850000000000069" fill="#b4b4b4" stroke="#111" stroke-width="1.9"/>
<line x1="217.2" y1="1000.8" x2="217.2" y2="998.4" stroke="#111" stroke-width="1.6" stroke-linecap="butt"/>
<line x1="214.95" y1="999.1" x2="219.45" y2="999.1" stroke="#111" stroke-width="1.6" stroke-linecap="butt"/>
<rect x="227.54999999999998" y="1003.95" width="17.80000000000002" height="12.650000000000023" fill="#000" stroke="#111" stroke-width="1.9"/>
<line x1="236.5" y1="1003" x2="236.5" y2="1000.5" stroke="#111" stroke-width="1.6" stroke-linecap="butt"/>
<line x1="234.25" y1="1001.2" x2="238.75" y2="1001.2" stroke="#111" stroke-width="1.6" stroke-linecap="butt"/>
<rect x="261.45" y="983.95" width="17.99999999999998" height="32.65000000000002" fill="#b4b4b4" stroke="#111" stroke-width="1.9"/>
<line x1="270.3" y1="983" x2="270.3" y2="978.5" stroke="#111" stroke-width="1.6" stroke-linecap="butt"/>
<line x1="268.05" y1="979.2" x2="272.55" y2="979.2" stroke="#111" stroke-width="1.6" stroke-linecap="butt"/>
<rect x="280.55" y="987.25" width="17.99999999999998" height="29.35000000000007" fill="#000" stroke="#111" stroke-width="1.9"/>
<line x1="289.7" y1="986.3" x2="289.7" y2="981" stroke="#111" stroke-width="1.6" stroke-linecap="butt"/>
<line x1="287.45" y1="981.7" x2="291.95" y2="981.7" stroke="#111" stroke-width="1.6" stroke-linecap="butt"/>
<rect x="314.25" y="874.75" width="18.199999999999967" height="141.85000000000008" fill="#b4b4b4" stroke="#111" stroke-width="1.9"/>
<line x1="323.3" y1="873.8" x2="323.3" y2="859.3" stroke="#111" stroke-width="1.6" stroke-linecap="butt"/>
<line x1="321.05" y1="860.0" x2="325.55" y2="860.0" stroke="#111" stroke-width="1.6" stroke-linecap="butt"/>
<rect x="333.55" y="877.95" width="17.99999999999998" height="138.65000000000003" fill="#000" stroke="#111" stroke-width="1.9"/>
<line x1="342.5" y1="877" x2="342.5" y2="854.3" stroke="#111" stroke-width="1.6" stroke-linecap="butt"/>
<line x1="340.25" y1="855.0" x2="344.75" y2="855.0" stroke="#111" stroke-width="1.6" stroke-linecap="butt"/>
<text x="164.3" y="1030.5" font-size="10.8" textLength="21.8" lengthAdjust="spacingAndGlyphs" stroke="#111" stroke-width="0.15">0.25</text>
<text x="219.3" y="1030.5" font-size="10.8" textLength="14.6" lengthAdjust="spacingAndGlyphs" stroke="#111" stroke-width="0.15">0.5</text>
<text x="266" y="1030.5" font-size="10.8" textLength="21.2" lengthAdjust="spacingAndGlyphs" stroke="#111" stroke-width="0.15">0.75</text>
<text x="329" y="1030.5" font-size="10.8" textLength="5.4" lengthAdjust="spacingAndGlyphs" stroke="#111" stroke-width="0.15">2</text>
<text x="205.5" y="1055.8" font-size="11.5" textLength="87" lengthAdjust="spacingAndGlyphs" stroke="#111" stroke-width="0.3">Collagen (μg/mL)</text>
<text x="97.6" y="977.5" font-size="11.8" textLength="114.5" lengthAdjust="spacingAndGlyphs" transform="rotate(-90 97.6 977.5)" stroke="#111" stroke-width="0.18">Percent aggregation</text>
</svg>
</body>
</html>
